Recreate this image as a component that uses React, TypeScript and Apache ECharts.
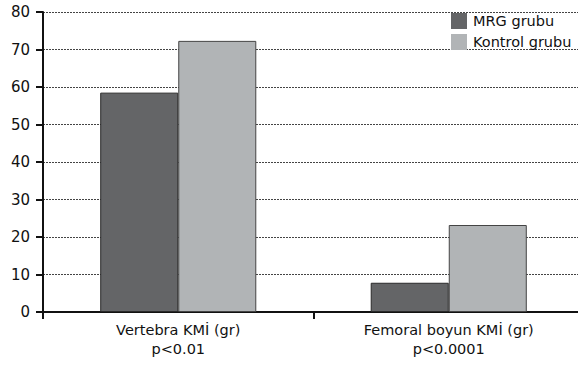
import React, { useEffect, useRef } from "react";
import * as echarts from "echarts";

const categories = ["Vertebra KMİ (gr)\np<0.01", "Femoral boyun KMİ (gr)\np<0.0001"];
const seriesNames = ["MRG grubu", "Kontrol grubu"];
const mrgValues = [58.5, 7.8];
const kontrolValues = [72.3, 23.2];
const yTicks = [0, 10, 20, 30, 40, 50, 60, 70, 80];

export default function App() {
  const ref = useRef<HTMLDivElement>(null);
  useEffect(() => {
    document.body.style.margin = "0";
    const chart = echarts.init(ref.current!, null, { renderer: "svg" });
    const font = "'DejaVu Sans', 'Liberation Sans', Arial, sans-serif";
    chart.setOption({
      animation: false,
      textStyle: { fontFamily: font },
      grid: { left: 43, top: 12, width: 541, height: 300, containLabel: false },
      legend: {
        data: seriesNames,
        orient: "vertical",
        left: 451,
        top: 13,
        itemWidth: 16,
        itemHeight: 16,
        itemGap: 5,
        padding: 0,
        icon: "rect",
        itemStyle: { borderWidth: 0 },
        textStyle: { fontSize: 14.5, color: "#111", fontFamily: font, padding: [0, 0, 0, 1] },
      },
      xAxis: {
        type: "category",
        data: categories,
        boundaryGap: true,
        axisLine: { lineStyle: { color: "#111", width: 2 } },
        axisTick: { show: true, length: 7, inside: false, lineStyle: { color: "#111", width: 2 } },
        axisLabel: { fontSize: 14.5, color: "#111", lineHeight: 19, margin: 8, fontFamily: font },
      },
      yAxis: {
        type: "value",
        min: yTicks[0],
        max: yTicks[yTicks.length - 1],
        interval: 10,
        axisLine: { show: true, lineStyle: { color: "#111", width: 2 } },
        axisTick: { show: true, length: 7, lineStyle: { color: "#111", width: 2 } },
        axisLabel: { fontSize: 15, color: "#111", margin: 13, fontFamily: font },
        splitLine: { show: true, lineStyle: { color: "#444", type: [2, 1], width: 1 } },
      },
      series: [
        {
          name: seriesNames[0],
          type: "bar",
          data: mrgValues,
          barGap: "0%",
          barCategoryGap: "42.3%",
          itemStyle: { color: "#646567", borderColor: "#2a2a2a", borderWidth: 1 },
        },
        {
          name: seriesNames[1],
          type: "bar",
          data: kontrolValues,
          barGap: "0%",
          barCategoryGap: "42.3%",
          itemStyle: { color: "#b1b4b6", borderColor: "#444", borderWidth: 1 },
        },
      ],
    });
    return () => chart.dispose();
  }, []);
  return (
    <div style={{ width: 578, height: 365, overflow: "hidden" }}>
      <div ref={ref} style={{ width: 592, height: 365 }} />
    </div>
  );
}
